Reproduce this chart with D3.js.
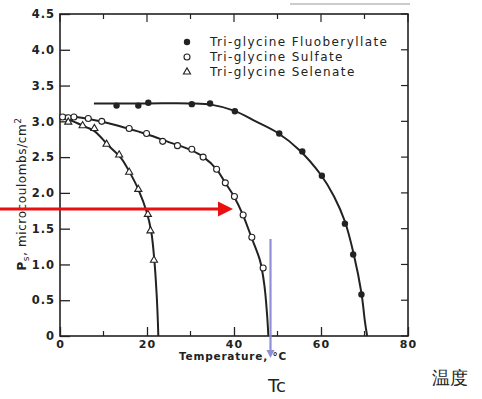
<!DOCTYPE html>
<html>
<head>
<meta charset="utf-8">
<script src="https://cdn.jsdelivr.net/npm/d3@7"></script>
<style>
  body { margin: 0; background: #fff; }
  text { font-family: "DejaVu Sans", sans-serif; fill: #222; }
</style>
</head>
<body>
<div id="chart"></div>
<script>
// measured points (temperature in degC, Ps in microcoulombs/cm2)
const fluoPoints = [[13.0, 3.22], [18.0, 3.22], [20.3, 3.26], [30.3, 3.24], [34.5, 3.25], [40.2, 3.14],
    [50.4, 2.83], [55.7, 2.58], [60.2, 2.24], [65.5, 1.57], [67.4, 1.14], [69.3, 0.58]];
const sulfPoints = [[0.6, 3.06], [1.9, 3.05], [3.2, 3.06], [6.5, 3.04], [9.6, 3.0], [15.9, 2.9], [19.9, 2.83],
    [23.6, 2.72], [27.0, 2.66], [30.3, 2.61], [32.9, 2.5], [36.0, 2.33], [38.0, 2.14], [40.1, 1.95],
    [42.1, 1.69], [44.1, 1.38], [46.7, 0.95]];
const selePoints = [[1.9, 2.99], [5.2, 2.94], [7.9, 2.9], [10.7, 2.68], [13.6, 2.53], [15.9, 2.29],
    [18.0, 2.05], [20.2, 1.70], [20.8, 1.47], [21.6, 1.06]];

// fitted curves as drawn in the figure
const fluoCurve = [[7.8, 3.25], [20, 3.25], [30, 3.25], [35, 3.23], [40, 3.15], [45, 3.0], [50, 2.84],
    [55, 2.6], [60, 2.25], [63, 1.95], [65.5, 1.6], [67.5, 1.15], [69.3, 0.6], [70.1, 0.2], [70.6, 0]];
const sulfCurve = [[0, 3.09], [5, 3.05], [10, 2.99], [15, 2.91], [20, 2.82], [25, 2.71], [30, 2.6],
    [33, 2.5], [36, 2.33], [38, 2.14], [40, 1.95], [42, 1.7], [44, 1.38], [46, 1.05], [47, 0.7],
    [47.6, 0.3], [47.9, 0]];
const seleCurve = [[0, 3.08], [3, 3.0], [6, 2.92], [8, 2.86], [11, 2.67], [14, 2.49], [16, 2.29],
    [18, 2.05], [20, 1.72], [21, 1.45], [21.7, 1.05], [22.2, 0.6], [22.5, 0.2], [22.6, 0]];

const xTicks = [0, 20, 40, 60, 80];
const xMinorTicks = [10, 30, 50, 70];
const yTicks = [0, 0.5, 1.0, 1.5, 2.0, 2.5, 3.0, 3.5, 4.0, 4.5];
const legendLabels = ["Tri-glycine Fluoberyllate", "Tri-glycine Sulfate", "Tri-glycine Selenate"];
const markerTypes = ["filled", "open", "triangle"];

const W = 482, H = 399;
const svg = d3.select("#chart").append("svg").attr("width", W).attr("height", H);

const x = d3.scaleLinear().domain([0, 80]).range([60, 408]);
const y = d3.scaleLinear().domain([0, 4.5]).range([336, 14]);
const ink = "#222";

// scan edge line at top right
svg.append("line").attr("x1", 290).attr("x2", 410).attr("y1", 4).attr("y2", 4)
    .attr("stroke", "#999").attr("stroke-width", 1);

// frame
svg.append("rect").attr("x", x(0)).attr("y", y(4.5))
    .attr("width", x(80) - x(0)).attr("height", y(0) - y(4.5))
    .attr("fill", "none").attr("stroke", ink).attr("stroke-width", 1.6);

// left axis
const yAxis = svg.append("g").attr("transform", `translate(${x(0)},0)`)
    .call(d3.axisLeft(y).tickValues(yTicks).tickSize(-10).tickPadding(5)
        .tickFormat(d => d === 0 ? "0" : d3.format(".1f")(d)));
yAxis.select(".domain").remove();
yAxis.selectAll("line").attr("stroke", ink).attr("stroke-width", 1.3);
yAxis.selectAll("text").attr("font-size", 11.5).attr("font-weight", "bold").attr("letter-spacing", 1).attr("fill", ink);

// right ticks
svg.append("g").selectAll("line").data(yTicks).join("line")
    .attr("x1", x(80)).attr("x2", x(80) - 7)
    .attr("y1", d => y(d)).attr("y2", d => y(d))
    .attr("stroke", ink).attr("stroke-width", 1.2);

// bottom axis
const xAxis = svg.append("g").attr("transform", `translate(0,${y(0)})`)
    .call(d3.axisBottom(x).tickValues(xTicks).tickSize(-9).tickPadding(4));
xAxis.select(".domain").remove();
xAxis.selectAll("line").attr("stroke", ink).attr("stroke-width", 1.3);
xAxis.selectAll("text").attr("font-size", 11).attr("font-weight", "bold").attr("letter-spacing", 1).attr("fill", ink);

svg.append("g").selectAll("line").data(xMinorTicks).join("line")
    .attr("x1", d => x(d)).attr("x2", d => x(d))
    .attr("y1", y(0)).attr("y2", y(0) - 5)
    .attr("stroke", ink).attr("stroke-width", 1.2);

// top ticks
svg.append("g").selectAll("line").data(xTicks.concat(xMinorTicks)).join("line")
    .attr("x1", d => x(d)).attr("x2", d => x(d))
    .attr("y1", y(4.5)).attr("y2", d => y(4.5) + (d % 20 === 0 ? 8 : 5))
    .attr("stroke", ink).attr("stroke-width", 1.2);

// axis titles
svg.append("text").attr("x", 233).attr("y", 360).attr("text-anchor", "middle")
    .attr("font-size", 10.5).attr("font-weight", "bold").attr("letter-spacing", 0.8)
    .text("Temperature, \u00b0C");

const yl = svg.append("text").attr("transform", "translate(26,194) rotate(-90)")
    .attr("text-anchor", "middle").attr("font-size", 12).attr("letter-spacing", 0.6);
yl.append("tspan").attr("font-weight", "bold").text("P");
yl.append("tspan").attr("font-size", 9).attr("dy", 3).text("s");
yl.append("tspan").attr("dy", -3).text(", microcoulombs/cm");
yl.append("tspan").attr("font-size", 9).attr("dy", -5).text("2");

// curves
const line = d3.line().x(d => x(d[0])).y(d => y(d[1])).curve(d3.curveCatmullRom.alpha(0.5));
[fluoCurve, sulfCurve, seleCurve].forEach(c => {
    svg.append("path").datum(c).attr("d", line)
        .attr("fill", "none").attr("stroke", ink).attr("stroke-width", 2);
});

function drawMarker(g, type, cx, cy) {
    if (type === "filled") {
        g.append("circle").attr("cx", cx).attr("cy", cy).attr("r", 3.2).attr("fill", ink);
    } else if (type === "open") {
        g.append("circle").attr("cx", cx).attr("cy", cy).attr("r", 3).attr("fill", "#fff")
            .attr("stroke", ink).attr("stroke-width", 1.1);
    } else {
        g.append("path").attr("transform", `translate(${cx},${cy})`)
            .attr("d", d3.symbol().type(d3.symbolTriangle).size(22))
            .attr("fill", "#fff").attr("stroke", ink).attr("stroke-width", 1.1);
    }
}

const markers = svg.append("g");
[fluoPoints, sulfPoints, selePoints].forEach((pts, i) => {
    pts.forEach(p => drawMarker(markers, markerTypes[i], x(p[0]), y(p[1])));
});

// legend
const legend = svg.append("g");
legendLabels.forEach((lab, i) => {
    const ly = 42 + i * 15;
    drawMarker(legend, markerTypes[i], 187, ly);
    legend.append("text").attr("x", 210).attr("y", ly + 4)
        .attr("font-size", 12).attr("letter-spacing", 1.4).text(lab);
});

// annotations
svg.append("line").attr("x1", 0).attr("x2", 220).attr("y1", 209).attr("y2", 209)
    .attr("stroke", "#e81010").attr("stroke-width", 3);
svg.append("path").attr("d", "M218,201.5 L233,209 L218,216.5 Z").attr("fill", "#e81010");

svg.append("line").attr("x1", 270.5).attr("x2", 270.5).attr("y1", 239).attr("y2", 352)
    .attr("stroke", "#8f8fd8").attr("stroke-width", 2.2);
svg.append("path").attr("d", "M266.5,350 L270.5,358 L274.5,350 Z").attr("fill", "#8f8fd8");

svg.append("text").attr("x", 277).attr("y", 392).attr("text-anchor", "middle")
    .attr("font-family", "Arial, 'Liberation Sans', sans-serif").attr("font-size", 18).attr("fill", "#111")
    .text("Tc");
svg.append("text").attr("x", 432).attr("y", 384)
    .attr("font-family", "'Noto Sans CJK SC', sans-serif").attr("font-size", 18).attr("fill", "#111")
    .text("温度");
</script>
</body>
</html>
